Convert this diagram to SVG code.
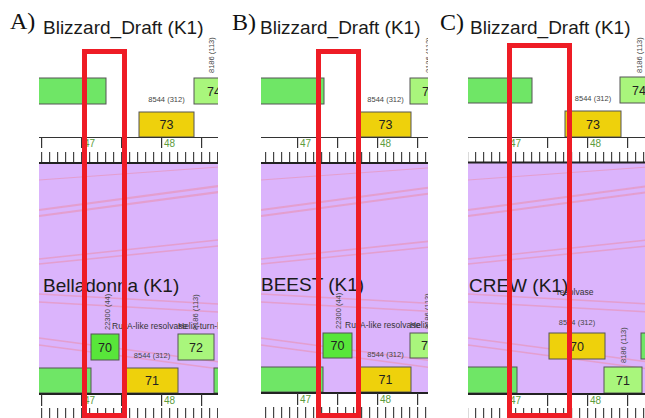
<svg xmlns="http://www.w3.org/2000/svg" xmlns:xlink="http://www.w3.org/1999/xlink" width="645" height="418" viewBox="0 0 645 418">
<style>
.plabel{font-family:"Liberation Serif","Times New Roman",serif;font-size:24px;fill:#111}
.title{font-family:"Liberation Sans",Arial,sans-serif;font-size:19px;fill:#1a1a1a}
.num{font-family:"Liberation Sans",Arial,sans-serif;font-size:12.5px;fill:#222;text-anchor:middle}
.small{font-family:"Liberation Sans",Arial,sans-serif;font-size:7.5px;fill:#444}
.smallc{font-family:"Liberation Sans",Arial,sans-serif;font-size:7.5px;fill:#444;text-anchor:middle}
.ann{font-family:"Liberation Sans",Arial,sans-serif;font-size:8.5px;fill:#333}
.tk{font-family:"Liberation Sans",Arial,sans-serif;font-size:10px;fill:#5c9c3c}
.purple{fill:#dbb4fc}
.gbar{fill:#6fe666;stroke:#555;stroke-width:1}
.g70{fill:#58e63a;stroke:#555;stroke-width:1}
.lg{fill:#a9f67c;stroke:#555;stroke-width:1}
.yel{fill:#eed10c;stroke:#555;stroke-width:1}
.pink line{stroke:#ee8aa2;stroke-opacity:0.5}
.rl{stroke:#333;stroke-width:1.2;fill:none}
.rlb{stroke:#222;stroke-width:2.2;fill:none}
.frame{fill:none;stroke:#ee1c25;stroke-width:5}
</style>
<defs>
<clipPath id="clipA"><rect x="39" y="30" width="179" height="388"/></clipPath>
<clipPath id="clipB"><rect x="261" y="30" width="167" height="388"/></clipPath>
<clipPath id="clipC"><rect x="468" y="30" width="177" height="388"/></clipPath>
<pattern id="min1" x="1" y="0" width="8" height="418" patternUnits="userSpaceOnUse"><rect x="0" y="0" width="1.2" height="418" fill="#444"/></pattern>
<pattern id="min3" x="3" y="0" width="8" height="418" patternUnits="userSpaceOnUse"><rect x="0" y="0" width="1.2" height="418" fill="#444"/></pattern>
<g id="syn" class="pink">
 <line x1="0" y1="180" x2="180" y2="167" stroke-width="1"/>
 <line x1="0" y1="210" x2="180" y2="186" stroke-width="2"/>
 <line x1="0" y1="216" x2="180" y2="192" stroke-width="2"/>
 <line x1="0" y1="259" x2="180" y2="240" stroke-width="1.5"/>
 <line x1="0" y1="264" x2="180" y2="246" stroke-width="1.5"/>
 <line x1="0" y1="294" x2="180" y2="304" stroke-width="1.5"/>
 <line x1="0" y1="302" x2="180" y2="312" stroke-width="1.5"/>
 <line x1="0" y1="338" x2="180" y2="362" stroke-width="1.5"/>
 <line x1="0" y1="345" x2="180" y2="369" stroke-width="1.5"/>
</g>
</defs>
<rect width="645" height="418" fill="#fff"/>

<!-- backgrounds -->
<rect class="purple" x="39" y="164" width="179" height="229"/>
<rect class="purple" x="261" y="164" width="167" height="228"/>
<rect class="purple" x="468" y="163" width="177" height="230"/>

<g id="connectors">
 <g clip-path="url(#clipA)"><use xlink:href="#syn" href="#syn" x="39"/></g>
 <g clip-path="url(#clipB)"><use xlink:href="#syn" href="#syn" x="261"/></g>
 <g clip-path="url(#clipC)"><use xlink:href="#syn" href="#syn" x="468"/></g>
</g>

<!-- PANEL A -->
<g id="panelA">
 <text class="plabel" x="10" y="29">A)</text>
 <text class="title" x="43" y="34">Blizzard_Draft (K1)</text>
 <g clip-path="url(#clipA)">
  <g id="A-top-left"><rect class="gbar" x="30" y="78" width="76" height="26"/></g>
  <g id="A-top-73"><rect class="yel" x="139" y="112" width="55" height="25"/><text class="num" x="166.5" y="129">73</text><text class="smallc" x="166.5" y="102">8544 (312)</text></g>
  <g id="A-top-74"><rect class="lg" x="194" y="78" width="40" height="26"/><text class="num" x="214" y="95.5">74</text><text class="small" transform="translate(214,73) rotate(-90)">8186 (113)</text></g>
  <g id="A-ruler-top">
   <line class="rl" x1="39" y1="137.5" x2="218" y2="137.5"/>
   <path class="rl" d="M41.6 137.5V148M81.6 137.5V148M121.6 137.5V148M161.6 137.5V148M201.6 137.5V148"/>
   <rect x="39" y="152" width="179" height="10" fill="url(#min1)"/>
   <line class="rlb" x1="39" y1="163" x2="218" y2="163"/>
   <text class="tk" x="84" y="147">47</text><text class="tk" x="164" y="147">48</text>
  </g>
  <text class="title" x="43" y="292">Belladonna (K1)</text>
  <text class="ann" x="112" y="329">RuvA-like resolvase</text>
  <text class="ann" x="178" y="329">Helix-turn-helix</text>
  <g id="A-bot-70"><rect class="g70" x="91" y="334" width="28" height="26"/><text class="num" x="105" y="351.5">70</text><text class="small" transform="translate(110,330) rotate(-90)">22300 (44)</text></g>
  <g id="A-bot-72"><rect class="lg" x="178" y="334" width="36" height="26"/><text class="num" x="196" y="351.5">72</text><text class="small" transform="translate(198,330) rotate(-90)">8186 (113)</text></g>
  <g id="A-bot-left"><rect class="gbar" x="30" y="368" width="61" height="25"/></g>
  <g id="A-bot-71"><rect class="yel" x="126" y="368" width="52" height="25"/><text class="num" x="152" y="385">71</text><text class="smallc" x="152" y="358">8544 (312)</text></g>
  <g id="A-bot-right"><rect class="gbar" x="214" y="368" width="30" height="25"/></g>
  <g id="A-ruler-bot">
   <line class="rlb" x1="39" y1="394" x2="218" y2="394"/>
   <path class="rl" d="M41.6 394V406M81.6 394V406M121.6 394V406M161.6 394V406M201.6 394V406"/>
   <rect x="39" y="408" width="179" height="10" fill="url(#min1)"/>
   <text class="tk" x="84" y="404">47</text><text class="tk" x="164" y="404">48</text>
  </g>
 </g>
 <rect class="frame" x="84.5" y="51.5" width="40" height="364"/>
</g>

<!-- PANEL B -->
<g id="panelB">
 <text class="plabel" x="232" y="30">B)</text>
 <text class="title" x="260" y="34">Blizzard_Draft (K1)</text>
 <g clip-path="url(#clipB)">
  <g id="B-top-left"><rect class="gbar" x="250" y="78" width="74" height="26"/></g>
  <g id="B-top-73"><rect class="yel" x="360" y="112" width="51" height="25"/><text class="num" x="385.5" y="129">73</text><text class="smallc" x="385.5" y="102">8544 (312)</text></g>
  <g id="B-top-74"><rect class="lg" x="410" y="78" width="38" height="26"/><text class="num" x="429" y="95.5">74</text><text class="small" transform="translate(431,73) rotate(-90)">8186 (113)</text></g>
  <g id="B-ruler-top">
   <line class="rl" x1="261" y1="137.5" x2="428" y2="137.5"/>
   <path class="rl" d="M297.6 137.5V148M337.6 137.5V148M377.6 137.5V148M417.6 137.5V148"/>
   <rect x="261" y="152" width="167" height="10" fill="url(#min1)"/>
   <line class="rlb" x1="261" y1="163" x2="428" y2="163"/>
   <text class="tk" x="300" y="147">47</text><text class="tk" x="380" y="147">48</text>
  </g>
  <text class="title" x="261" y="291">BEEST (K1)</text>
  <text class="ann" x="345" y="328">RuvA-like resolvase</text>
  <text class="ann" x="410" y="328">Helix-turn-helix</text>
  <g id="B-bot-70"><rect class="g70" x="323" y="333" width="29" height="25"/><text class="num" x="337.5" y="350">70</text><text class="small" transform="translate(341,329) rotate(-90)">22300 (44)</text></g>
  <g id="B-bot-72"><rect class="lg" x="410" y="333" width="36" height="25"/><text class="num" x="428" y="350">72</text><text class="small" transform="translate(430,329) rotate(-90)">8186 (113)</text></g>
  <g id="B-bot-left"><rect class="gbar" x="250" y="367" width="73" height="25"/></g>
  <g id="B-bot-71"><rect class="yel" x="360" y="367" width="51" height="25"/><text class="num" x="385.5" y="384">71</text><text class="smallc" x="385.5" y="357">8544 (312)</text></g>
  <g id="B-ruler-bot">
   <line class="rlb" x1="261" y1="393" x2="428" y2="393"/>
   <path class="rl" d="M297.6 393V405M337.6 393V405M377.6 393V405M417.6 393V405"/>
   <rect x="261" y="407" width="167" height="11" fill="url(#min1)"/>
   <text class="tk" x="300" y="403">47</text><text class="tk" x="380" y="403">48</text>
  </g>
 </g>
 <rect class="frame" x="318.5" y="51.5" width="40" height="364"/>
</g>

<!-- PANEL C -->
<g id="panelC">
 <text class="plabel" x="440" y="30">C)</text>
 <text class="title" x="470" y="34">Blizzard_Draft (K1)</text>
 <g clip-path="url(#clipC)">
  <g id="C-top-left"><rect class="gbar" x="460" y="78" width="72" height="25"/></g>
  <g id="C-top-73"><rect class="yel" x="565" y="111" width="56" height="26"/><text class="num" x="593" y="128.5">73</text><text class="smallc" x="593" y="101">8544 (312)</text></g>
  <g id="C-top-74"><rect class="lg" x="620" y="77" width="38" height="26"/><text class="num" x="639" y="94.5">74</text><text class="small" transform="translate(642,73) rotate(-90)">8186 (113)</text></g>
  <g id="C-ruler-top">
   <line class="rl" x1="468" y1="137.5" x2="645" y2="137.5"/>
   <path class="rl" d="M507.6 137.5V148M547.6 137.5V148M587.6 137.5V148M627.6 137.5V148"/>
   <rect x="468" y="152" width="177" height="10" fill="url(#min3)"/>
   <line class="rlb" x1="468" y1="162.5" x2="645" y2="162.5"/>
   <text class="tk" x="510" y="147">47</text><text class="tk" x="590" y="147">48</text>
  </g>
  <text class="title" x="469" y="292">CREW (K1)</text>
  <text class="ann" x="557" y="295">resolvase</text>
  <g id="C-bot-70"><rect class="yel" x="549" y="333" width="56" height="26"/><text class="num" x="577" y="350.5">70</text><text class="smallc" x="577" y="325">8544 (312)</text></g>
  <g id="C-bot-right"><rect class="gbar" x="641" y="333" width="30" height="26"/></g>
  <g id="C-bot-left"><rect class="gbar" x="460" y="367" width="57" height="26"/></g>
  <g id="C-bot-71"><rect class="lg" x="604" y="367" width="38" height="26"/><text class="num" x="623" y="384.5">71</text><text class="small" transform="translate(626,363) rotate(-90)">8186 (113)</text></g>
  <g id="C-ruler-bot">
   <line class="rlb" x1="468" y1="394" x2="645" y2="394"/>
   <path class="rl" d="M507.6 394V406M547.6 394V406M587.6 394V406M627.6 394V406"/>
   <rect x="468" y="408" width="177" height="10" fill="url(#min3)"/>
   <text class="tk" x="510" y="404">47</text><text class="tk" x="590" y="404">48</text>
  </g>
 </g>
 <rect class="frame" x="509.5" y="45.5" width="60" height="370"/>
</g>
</svg>
